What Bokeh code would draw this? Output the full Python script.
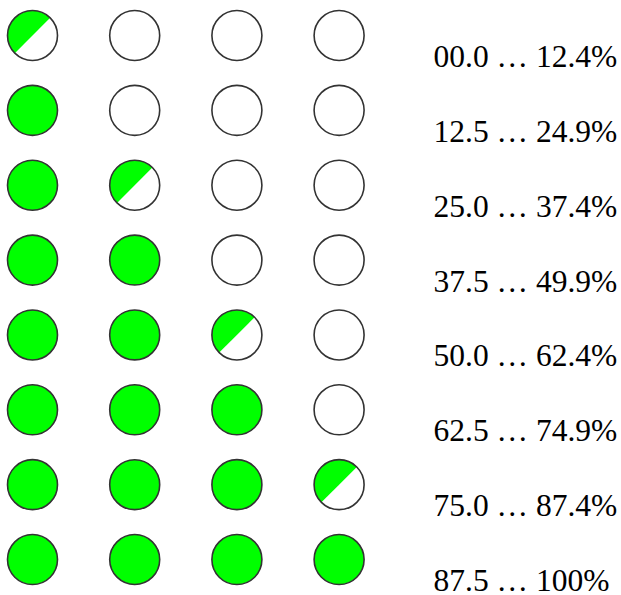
from bokeh.plotting import figure
from bokeh.models import Range1d, ColumnDataSource
from bokeh.core.properties import value
from bokeh.embed import file_html
from bokeh.resources import INLINE
import math

# ---- data ----
labels = ["00.0 … 12.4%", "12.5 … 24.9%", "25.0 … 37.4%", "37.5 … 49.9%",
          "50.0 … 62.4%", "62.5 … 74.9%", "75.0 … 87.4%", "87.5 … 100%"]
lower_bounds = [0.0, 12.5, 25.0, 37.5, 50.0, 62.5, 75.0, 87.5]
n_icons = 4
pct_per_icon = 25.0

# derive icon states from the band lower bounds
full_x, full_y, half_x, half_y, all_x, all_y = [], [], [], [], [], []
for r, lb in enumerate(lower_bounds):
    halves = int(round((lb + 12.5) / (pct_per_icon / 2)))
    n_full, n_half = halves // 2, halves % 2
    for c in range(n_icons):
        all_x.append(c); all_y.append(-r)
        if c < n_full:
            full_x.append(c); full_y.append(-r)
        elif c == n_full and n_half:
            half_x.append(c); half_y.append(-r)

W, H = 621, 595
col_px, row_px = 102.2, 74.86
x0_px, y0_px = 32, 35

p = figure(width=W, height=H, output_backend="svg", toolbar_location=None,
           x_range=Range1d(-x0_px / col_px, (W - x0_px) / col_px),
           y_range=Range1d(-(H - y0_px) / row_px, y0_px / row_px),
           min_border=0, outline_line_color=None)
p.axis.visible = False
p.grid.visible = False
p.background_fill_color = "white"

GREEN = "#00ff00"
p.scatter(all_x, all_y, size=50, fill_color="white", line_color=None)
p.scatter(full_x, full_y, size=50, fill_color=GREEN, line_color=None)
p.wedge(half_x, half_y, radius=25, radius_units="screen",
        start_angle=math.pi / 4, end_angle=5 * math.pi / 4,
        fill_color=GREEN, line_color=None)
p.scatter(all_x, all_y, size=50, fill_color=None, line_color="#333333", line_width=1.6)

src = ColumnDataSource(dict(x=[(433 - x0_px) / col_px] * len(labels),
                            y=[-r for r in range(len(labels))], t=labels))
p.text("x", "y", text="t", source=src, text_font=value("Liberation Serif"),
       text_font_size="31.5px", text_color="black", text_align="left",
       text_baseline="alphabetic", y_offset=21)

open("out.html", "w").write(file_html(p, INLINE))
